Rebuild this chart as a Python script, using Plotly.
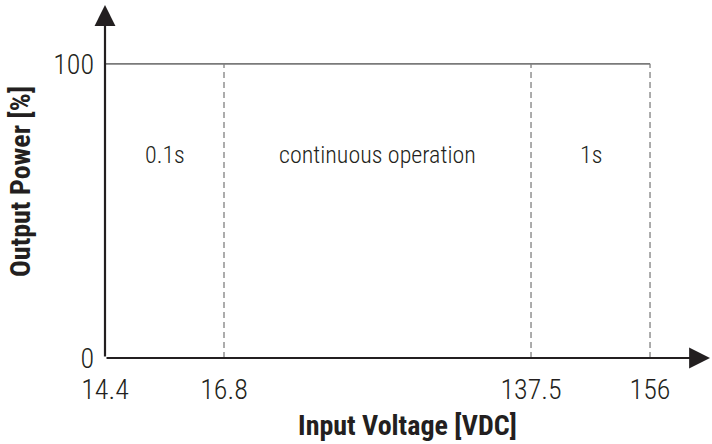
import plotly.graph_objects as go

# Data
voltage_labels = ["14.4", "16.8", "137.5", "156"]   # x tick labels (VDC)
voltage_pos = [0, 1, 3.58, 4.58]                      # schematic (not to scale) axis positions
power_ticks = [0, 100]                                # y tick values (%)
power_level = 100                                     # output power plateau (%)
zone_labels = ["0.1s", "continuous operation", "1s"]

FONT = "Liberation Sans Narrow, Roboto Condensed, DejaVu Sans Condensed, sans-serif"
INK = "#231f20"
GREY = "#808080"

x_max = 5.084
y_max = 120

fig = go.Figure()

# 100 % plateau line
fig.add_trace(go.Scatter(
    x=[voltage_pos[0], voltage_pos[-1]], y=[power_level, power_level],
    mode="lines", line=dict(color="#7a7a7a", width=1.6), hoverinfo="skip", showlegend=False))

# dashed boundaries
dx, dy = [], []
for p in voltage_pos[1:]:
    dx += [p, p, None]
    dy += [0, power_level, None]
fig.add_trace(go.Scatter(
    x=dx, y=dy, mode="lines",
    line=dict(color=GREY, width=1.3, dash="6px,4px"), hoverinfo="skip", showlegend=False))

# zone labels at the middle of each zone
annotations = []
for i, lab in enumerate(zone_labels):
    xm = (voltage_pos[i] + voltage_pos[i + 1]) / 2
    annotations.append(dict(x=xm, y=power_level * 0.69, xref="x", yref="y", text=lab,
                            showarrow=False,
                            font=dict(family=FONT, size=24, color=INK, weight=300)))

# axis arrows
annotations.append(dict(x=x_max, y=0, ax=0, ay=0, xref="x", yref="y", axref="x", ayref="y",
                        text="", showarrow=True, arrowhead=2, arrowsize=1.9, arrowwidth=2.2,
                        arrowcolor=INK))
annotations.append(dict(x=0, y=y_max, ax=0, ay=0, xref="x", yref="y", axref="x", ayref="y",
                        text="", showarrow=True, arrowhead=2, arrowsize=1.9, arrowwidth=2.2,
                        arrowcolor=INK))

fig.update_layout(
    width=712, height=444,
    margin=dict(l=105, r=2, t=5, b=86),
    paper_bgcolor="white", plot_bgcolor="white",
    font=dict(family=FONT, color=INK),
    annotations=annotations,
    xaxis=dict(range=[0, x_max], tickvals=voltage_pos, ticktext=voltage_labels,
               showgrid=False, zeroline=False, showline=False, ticks="", automargin=False,
               tickfont=dict(family=FONT, size=28, color=INK, weight=300), ticklabelstandoff=12,
               title=dict(text="<b>Input Voltage [VDC]</b>", font=dict(family=FONT, size=28, color=INK),
                          standoff=10)),
    yaxis=dict(range=[0, y_max], tickvals=power_ticks, ticktext=[str(v) for v in power_ticks],
               showgrid=False, zeroline=False, showline=False, ticks="", automargin=False,
               tickfont=dict(family=FONT, size=28, color=INK, weight=300), ticklabelstandoff=10,
               title=dict(text="<b>Output Power [%]</b>", font=dict(family=FONT, size=28, color=INK),
                          standoff=14)),
)

fig.write_html("out.html", config={"displayModeBar": False},
               post_script="document.body.style.margin='0';")
